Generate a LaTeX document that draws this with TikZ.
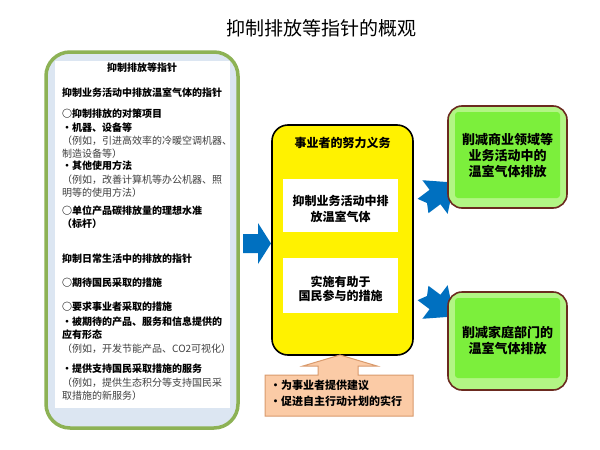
\documentclass[tikz,border=0pt]{standalone}
\usepackage{fontspec}
\setmainfont{Noto Sans CJK SC}
\definecolor{panelgreen}{HTML}{8DB255}
\definecolor{panelblue}{HTML}{DCE6F2}
\definecolor{arrowblue}{HTML}{0070C0}
\definecolor{peachfill}{HTML}{FBCBA6}
\definecolor{peachline}{HTML}{D99A6C}
\definecolor{gboxline}{HTML}{6B2A1F}
\definecolor{gboxout}{HTML}{B2F584}
\definecolor{gboxin}{HTML}{7CEF3C}
\definecolor{exgray}{HTML}{404040}
\tikzset{
  lb/.style={anchor=west, inner sep=0pt, font=\fontsize{10}{12}\selectfont\bfseries},
  lg/.style={anchor=west, inner sep=0pt, font=\fontsize{10}{12}\selectfont, text=exgray},
  whitebox/.style={fill=white, inner sep=0pt},
  boxtext/.style={align=center, inner sep=0pt, font=\fontsize{12}{16}\selectfont\bfseries},
  gtext/.style={align=center, inner sep=0pt, font=\fontsize{13}{16}\selectfont\bfseries},
  bluearrow/.style={fill=arrowblue},
}
\begin{document}
\begin{tikzpicture}[x=1pt,y=-1pt]
\useasboundingbox (0,0) rectangle (600,450);
\fill[white] (0,0) rectangle (600,450);

% title
\node[inner sep=0pt, font=\fontsize{19}{19}\selectfont] (title) at (321,28) {抑制排放等指针的概观};

% left panel
\node[draw=panelgreen, line width=3.5pt, fill=panelblue, rounded corners=24pt,
      minimum width=192pt, minimum height=376pt, inner sep=0pt] (panel) at (142,240) {};
\node[whitebox, minimum width=175pt, minimum height=347pt] (inner) at (142.5,234.5) {};

\node[inner sep=0pt, font=\fontsize{10}{12}\selectfont\bfseries] (l0) at (142,68) {抑制排放等指针};
\node[lb] (l1) at (62,93) {抑制业务活动中排放温室气体的指针};
\node[lb] (l2) at (62,114) {○抑制排放的对策项目};
\node[lb] (l3) at (62,128) {・机器、设备等};
\node[lg] (l4) at (62,141) {（例如，引进高效率的冷暖空调机器、};
\node[lg] (l5) at (62,154) {制造设备等）};
\node[lb] (l6) at (62,166) {・其他使用方法};
\node[lg] (l7) at (62,180) {（例如，改善计算机等办公机器、照};
\node[lg] (l8) at (62,193) {明等的使用方法）};
\node[lb] (l9) at (62,211) {○单位产品碳排放量的理想水准};
\node[lb] (l10) at (62,224) {（标杆）};
\node[lb] (l11) at (62,259) {抑制日常生活中的排放的指针};
\node[lb] (l12) at (62,283) {○期待国民采取的措施};
\node[lb] (l13) at (62,307) {○要求事业者采取的措施};
\node[lb] (l14) at (62,322) {・被期待的产品、服务和信息提供的};
\node[lb] (l15) at (62,335) {应有形态};
\node[lg] (l16) at (62,349) {（例如，开发节能产品、CO2可视化）};
\node[lb] (l17) at (62,369) {・提供支持国民采取措施的服务};
\node[lg] (l18) at (62,383) {（例如，提供生态积分等支持国民采};
\node[lg] (l19) at (62,396) {取措施的新服务）};

% left blue arrow
\fill[bluearrow] (243,234) -- (258,234) -- (258,223) -- (271,243.5) -- (258,264) -- (258,253) -- (243,253) -- cycle;

% yellow box
\node[draw=black, line width=1.6pt, fill=yellow, rounded corners=16pt,
      minimum width=141pt, minimum height=230pt, inner sep=0pt] (yb) at (342.5,240) {};
\node[inner sep=0pt, font=\fontsize{12}{12}\selectfont\bfseries] (yt) at (342.5,143) {事业者的努力义务};
\node[whitebox, minimum width=115pt, minimum height=53pt] (w1) at (340.5,205.5) {};
\node[boxtext] (w1t) at (340.5,209) {抑制业务活动中排\\放温室气体};
\node[whitebox, minimum width=115pt, minimum height=55pt] (w2) at (340.5,285.5) {};
\node[boxtext, font=\fontsize{12}{14.5}\selectfont\bfseries] (w2t) at (340.5,289) {实施有助于\\国民参与的措施};

% peach callout
\draw[fill=peachfill, draw=peachline, line width=1pt, line join=miter]
  (265,375) -- (318,375) -- (318,366) -- (303,366) -- (340,355) -- (377,366) -- (358,366)
  -- (358,375) -- (413,375) -- (413,416) -- (265,416) -- cycle;
\node[lb, font=\fontsize{11}{11}\selectfont\bfseries] (c1) at (270,385) {・为事业者提供建议};
\node[lb, font=\fontsize{11}{11}\selectfont\bfseries] (c2) at (270,401) {・促进自主行动计划的实行};

% right blue arrows (tips hidden behind green boxes)
\begin{scope}[shift={(435,197)}, rotate=37]
  \fill[bluearrow] (-15,9) -- (0,9) -- (0,21) -- (24,0) -- (0,-21) -- (0,-9) -- (-15,-9) -- (-10,0) -- cycle;
\end{scope}
\begin{scope}[shift={(435,302)}, rotate=-37]
  \fill[bluearrow] (-15,9) -- (0,9) -- (0,21) -- (24,0) -- (0,-21) -- (0,-9) -- (-15,-9) -- (-10,0) -- cycle;
\end{scope}

% green boxes
\node[draw=gboxline, line width=1.6pt, fill=gboxout, rounded corners=14pt,
      minimum width=119pt, minimum height=102pt, inner sep=0pt] (g1) at (507.5,157) {};
\fill[gboxin, rounded corners=3pt] (455,112) rectangle (560,198);
\node[gtext] (g1t) at (507.5,156) {削减商业领域等\\业务活动中的\\温室气体排放};

\node[draw=gboxline, line width=1.6pt, fill=gboxout, rounded corners=14pt,
      minimum width=119pt, minimum height=98pt, inner sep=0pt] (g2) at (507.5,341) {};
\fill[gboxin, rounded corners=3pt] (455,298) rectangle (560,378);
\node[gtext] (g2t) at (507.5,340) {削减家庭部门的\\温室气体排放};
\end{tikzpicture}
\end{document}
